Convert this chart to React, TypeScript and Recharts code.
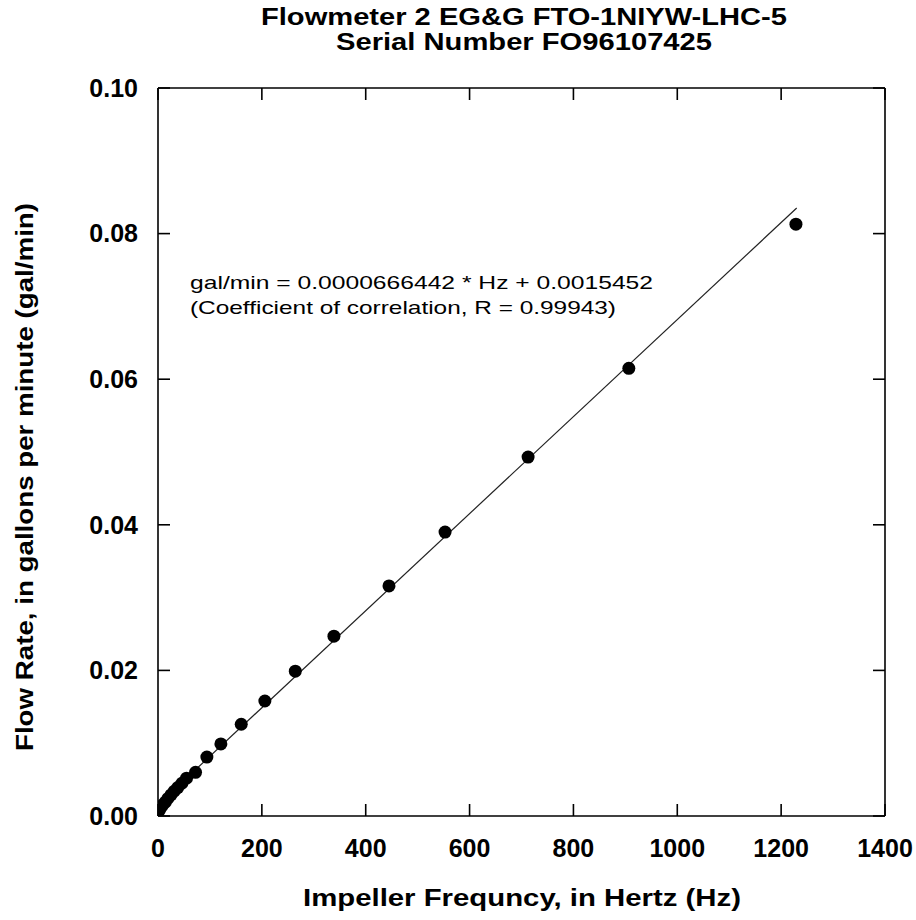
import { ScatterChart, Scatter, XAxis, YAxis } from 'recharts';

// measured calibration points: impeller frequency (Hz) vs flow rate (gal/min)
const freqHz = [2, 5, 9, 14, 19, 25, 31, 38, 46, 55, 72.3, 94.1, 121.1, 160.3, 205.8, 264.4, 338.8, 444.8, 552.8, 712.7, 906.7, 1228.5];
const flowGpm = [0.0007, 0.0011, 0.0015, 0.0019, 0.0024, 0.0029, 0.0034, 0.0039, 0.0045, 0.0052, 0.006, 0.0081, 0.0099, 0.0126, 0.0158, 0.0199, 0.0247, 0.0316, 0.039, 0.0493, 0.0615, 0.0813];

// least squares fit from the annotation
const fitSlope = 0.0000666442;
const fitIntercept = 0.0015452;
const fitRange = [0, 1230];

const xTicks = [0, 200, 400, 600, 800, 1000, 1200, 1400];
const yTicks = [0, 0.02, 0.04, 0.06, 0.08, 0.1];

const points = freqHz.map((x, i) => ({ x, y: flowGpm[i] }));
const fitLine = fitRange.map((x) => ({ x, y: fitSlope * x + fitIntercept }));

const FONT = '"Liberation Sans", Arial, sans-serif';
const W = 916;
const H = 920;

const Dot = ({ cx, cy }: any) => <circle cx={cx} cy={cy} r={6.5} fill="#000" />;

export default function App() {
  const tickStyle = { fontFamily: FONT, fontSize: 25, fontWeight: 'bold', fill: '#000' };
  return (
    <div style={{ position: 'relative', width: W, height: H, background: '#fff' }}>
      <style>{'body{margin:0}'}</style>
      <ScatterChart width={W} height={H} margin={{ top: 88, right: 31, bottom: 0, left: 0 }}>
        <XAxis
          xAxisId="b"
          type="number"
          dataKey="x"
          domain={[0, 1400]}
          ticks={xTicks}
          interval={0}
          allowDataOverflow
          height={104}
          tickSize={-12}
          tickMargin={35}
          stroke="#000"
          strokeWidth={1.6}
          tick={tickStyle}
        />
        <XAxis
          xAxisId="t"
          orientation="top"
          type="number"
          dataKey="x"
          domain={[0, 1400]}
          ticks={xTicks}
          interval={0}
          allowDataOverflow
          mirror
          height={1}
          tickSize={12}
          stroke="#000"
          strokeWidth={1.6}
          tick={() => <g />}
        />
        <YAxis
          yAxisId="l"
          type="number"
          dataKey="y"
          domain={[0, 0.1]}
          ticks={yTicks}
          interval={0}
          allowDataOverflow
          width={158}
          tickSize={-12}
          tickMargin={32}
          stroke="#000"
          strokeWidth={1.6}
          tickFormatter={(v: number) => v.toFixed(2)}
          tick={tickStyle}
        />
        <YAxis
          yAxisId="r"
          orientation="right"
          type="number"
          dataKey="y"
          domain={[0, 0.1]}
          ticks={yTicks}
          interval={0}
          allowDataOverflow
          mirror
          width={1}
          tickSize={12}
          stroke="#000"
          strokeWidth={1.6}
          tick={() => <g />}
        />
        <Scatter
          xAxisId="b"
          yAxisId="l"
          data={fitLine}
          line={{ stroke: '#222', strokeWidth: 1.2 }}
          shape={() => <g />}
          isAnimationActive={false}
        />
        <Scatter xAxisId="b" yAxisId="l" data={points} shape={Dot} fill="#000" isAnimationActive={false} />
      </ScatterChart>
      <svg
        width={W}
        height={H}
        style={{ position: 'absolute', left: 0, top: 0, pointerEvents: 'none' }}
        fontFamily={FONT}
      >
        <text x={524} y={25} textAnchor="middle" fontSize={23} fontWeight="bold" textLength={526} lengthAdjust="spacingAndGlyphs">
          Flowmeter 2 EG&amp;G FTO-1NIYW-LHC-5
        </text>
        <text x={524} y={50} textAnchor="middle" fontSize={23} fontWeight="bold" textLength={376} lengthAdjust="spacingAndGlyphs">
          Serial Number FO96107425
        </text>
        <text x={190} y={289} fontSize={19} textLength={463} lengthAdjust="spacingAndGlyphs">
          gal/min = 0.0000666442 * Hz + 0.0015452
        </text>
        <text x={190} y={314} fontSize={19} textLength={426} lengthAdjust="spacingAndGlyphs">
          (Coefficient of correlation, R = 0.99943)
        </text>
        <text x={522} y={906} textAnchor="middle" fontSize={24} fontWeight="bold" textLength={438} lengthAdjust="spacingAndGlyphs">
          Impeller Frequncy, in Hertz (Hz)
        </text>
        <text
          x={25}
          y={477}
          textAnchor="middle"
          dominantBaseline="central"
          fontSize={23}
          fontWeight="bold"
          textLength={548}
          lengthAdjust="spacingAndGlyphs"
          transform="rotate(-90 25 477)"
        >
          Flow Rate, in gallons per minute (gal/min)
        </text>
      </svg>
    </div>
  );
}
